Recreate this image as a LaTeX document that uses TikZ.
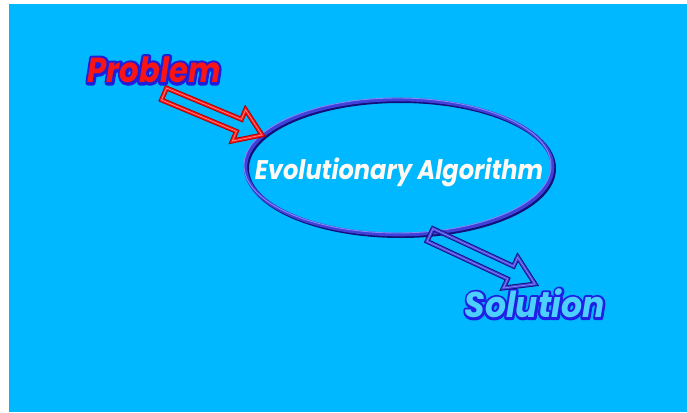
\documentclass[tikz,border=0pt]{standalone}
\usepackage{fontspec}
\usetikzlibrary{shapes.geometric,calc}
\newfontfamily\decofont{Poppins}
\definecolor{bgblue}{RGB}{0,184,255}
\definecolor{ringblue}{RGB}{64,64,218}
\definecolor{ringdark}{RGB}{16,16,120}
\definecolor{ringlight}{RGB}{135,135,245}
\definecolor{probred}{RGB}{250,20,20}
\definecolor{probdark}{RGB}{170,0,0}
\definecolor{textwhite}{RGB}{255,250,244}
% outlined lettering: a stroked copy underneath, the filled letters on top
% #1 fill rgb, #2 stroke rgb, #3 stroke width, #4 text
\newcommand\outlined[4]{%
  \rlap{\special{pdf:bcolor [#2] [#2]}%
    \special{pdf:literal direct 2 Tr #3 w 1 j}#4%
    \special{pdf:literal direct 0 Tr}\special{pdf:ecolor}}%
  \special{pdf:bcolor [#1] [#1]}#4\special{pdf:ecolor}%
}
% hollow block arrow: #1 style, #2 tail, #3 tip, #4 half shaft width,
% #5 half head width, #6 head length, #7 name prefix
\newcommand\hollowarrow[7]{%
  \coordinate (#7-m) at ($(#3)!#6!(#2)$);
  \draw[#1] ($(#2)!#4!90:(#3)$) -- ($(#7-m)!#4!90:(#3)$) -- ($(#7-m)!#5!90:(#3)$)
    -- (#3) -- ($(#7-m)!#5!-90:(#3)$) -- ($(#7-m)!#4!-90:(#3)$)
    -- ($(#2)!#4!-90:(#3)$) -- cycle;
}
\tikzset{
  label text/.style={inner sep=0pt, font=\decofont\bfseries\itshape},
  red frame/.style={line join=miter, draw=probred, line width=3pt,
    preaction={draw=probdark, line width=4.8pt},
    postaction={draw=red!45!white, line width=0.7pt}},
  blue frame/.style={line join=miter, draw=ringblue, line width=3pt,
    preaction={draw=ringdark, line width=4.8pt},
    postaction={draw=ringlight, line width=0.7pt}},
}
\begin{document}
\begin{tikzpicture}[x=1pt,y=-1pt]
  \useasboundingbox (0,0) rectangle (687,412);
  \fill[bgblue] (9,4) rectangle (687,412);

  % central ellipse with its shadow and highlight
  \draw[ringdark, line width=4pt] (400.5,168.5) ellipse [x radius=153.5, y radius=67.5];
  \node[ellipse, draw=ringblue, line width=3.6pt, minimum width=307pt,
        minimum height=135pt, inner sep=0pt] (ea) at (399,167) {};
  \draw[ringlight, line width=0.9pt] (397.5,165.5) ellipse [x radius=153.5, y radius=67.5];
  \node[label text, text=textwhite] (eatext) at (399,172.5)
    {\resizebox*{288pt}{29pt}{Evolutionary Algorithm}};

  % labels
  \node[label text] (prob) at (154,70)
    {\resizebox*{133pt}{26pt}{\outlined{0.98 0.08 0.08}{0.12 0.12 0.86}{1.6}{Problem}}};
  \node[label text] (sol) at (534.5,303.5)
    {\resizebox*{140pt}{29pt}{\outlined{0.3 0.82 1}{0.12 0.12 0.9}{1.4}{Solution}}};

  % connectors
  \coordinate (pa) at (164,94);
  \coordinate (pb) at (262,135);
  \coordinate (sa) at (430,235);
  \coordinate (sb) at (535,284);
  \hollowarrow{red frame}{pa}{pb}{6.5pt}{17pt}{25pt}{ra}
  \hollowarrow{blue frame}{sa}{sb}{7pt}{17pt}{27pt}{ba}
\end{tikzpicture}
\end{document}
